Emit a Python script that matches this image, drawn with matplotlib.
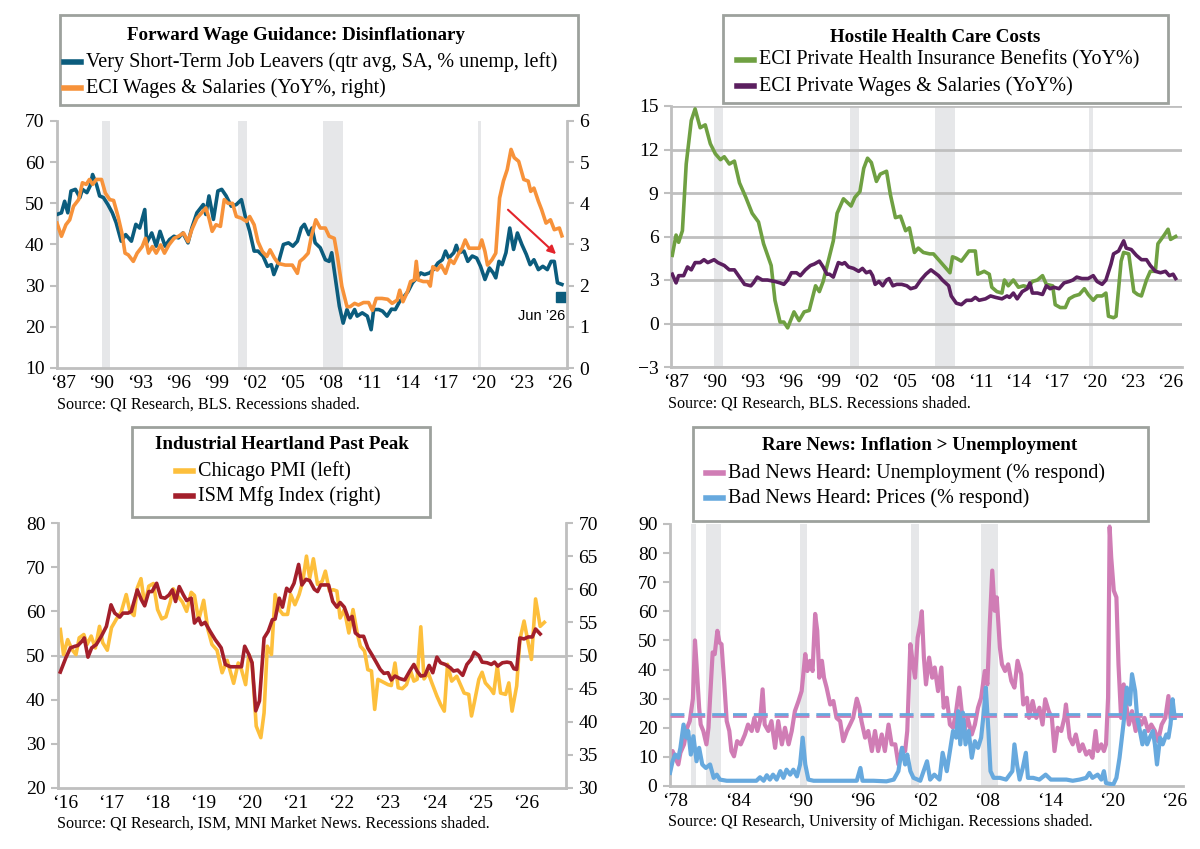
import numpy as np
import matplotlib.pyplot as plt
from matplotlib.patches import Rectangle
from matplotlib.lines import Line2D

plt.rcParams['font.family'] = ['Liberation Serif', 'DejaVu Serif']

# ---------------- data ----------------
# top left: very short-term job leavers (left) and ECI wages (right)
leavers_yr = [1987.0, 1987.35, 1987.6, 1987.85, 1988.1, 1988.45, 1988.8, 1989.0, 1989.35, 1989.6, 1989.8,
              1990.1, 1990.35, 1990.65, 1991.0, 1991.35, 1991.65, 1992.05, 1992.4, 1992.85, 1993.2, 1993.5,
              1993.9, 1994.05, 1994.45, 1994.8, 1995.1, 1995.5, 1995.85, 1996.2, 1996.55, 1996.9, 1997.3,
              1997.6, 1998.0, 1998.5, 1998.7, 1998.95, 1999.3, 1999.65, 1999.95, 2000.3, 2000.7, 2001.1,
              2001.5, 2001.8, 2002.15, 2002.5, 2002.8, 2003.2, 2003.55, 2003.85, 2004.05, 2004.4, 2004.8,
              2005.2, 2005.55, 2005.9, 2006.2, 2006.45, 2006.8, 2007.05, 2007.3, 2007.7, 2008.1, 2008.4,
              2008.6, 2008.9, 2009.2, 2009.5, 2009.8, 2010.05, 2010.4, 2010.6, 2011.0, 2011.4, 2011.7,
              2011.9, 2012.3, 2012.6, 2012.95, 2013.3, 2013.6, 2013.95, 2014.3, 2014.6, 2014.95, 2015.3,
              2015.6, 2015.9, 2016.3, 2016.6, 2016.95, 2017.3, 2017.55, 2017.8, 2018.2, 2018.4, 2018.6,
              2019.0, 2019.3, 2019.65, 2020.0, 2020.3, 2020.65, 2021.0, 2021.3, 2021.5, 2021.75, 2022.0,
              2022.3, 2022.6, 2022.9, 2023.2, 2023.55, 2023.9, 2024.2, 2024.5, 2024.85, 2025.2, 2025.55,
              2025.85, 2026.1, 2026.35, 2026.7]
leavers = [47.3, 47.7, 50.5, 47.7, 53.0, 53.4, 51.4, 53.4, 52.6, 54.2, 57.0,
           54.6, 51.8, 51.4, 49.7, 47.7, 45.3, 40.8, 42.4, 40.8, 44.9, 44.0,
           48.5, 40.4, 42.8, 39.6, 43.2, 39.6, 41.2, 42.0, 41.6, 42.8, 40.4,
           44.0, 47.7, 49.7, 47.3, 51.8, 46.1, 53.0, 53.4, 51.8, 49.3, 49.7,
           50.9, 46.9, 43.2, 38.4, 38.4, 37.2, 34.7, 35.1, 32.7, 35.5, 40.0,
           40.4, 39.6, 40.8, 44.0, 44.9, 42.4, 44.0, 40.4, 39.2, 36.3, 35.9,
           38.0, 31.5, 25.0, 20.9, 24.2, 22.2, 24.2, 22.6, 23.4, 22.6, 19.3,
           24.2, 24.2, 23.8, 22.6, 24.3, 24.2, 26.2, 27.4, 28.6, 30.7, 31.9,
           33.1, 32.7, 33.1, 33.9, 35.5, 36.3, 38.4, 36.7, 38.0, 39.8, 38.0,
           38.4, 35.9, 37.2, 36.7, 34.7, 31.5, 34.3, 33.1, 31.9, 35.9, 35.1,
           38.0, 44.0, 38.8, 42.8, 40.0, 37.6, 35.1, 36.3, 33.9, 34.7, 33.9,
           35.9, 35.9, 30.7, 30.3]
leavers_jun26 = (2026.6, 27.2)

eci_yr = [1987.0, 1987.35, 1987.7, 1988.0, 1988.3, 1988.7, 1989.0, 1989.3, 1989.55, 1989.8, 1990.1, 1990.5,
          1990.8, 1991.15, 1991.45, 1991.8, 1992.1, 1992.35, 1992.6, 1993.0, 1993.3, 1993.7, 1993.95, 1994.2,
          1994.5, 1994.8, 1995.15, 1995.45, 1995.8, 1996.2, 1996.55, 1996.95, 1997.3, 1997.6, 1998.0, 1998.35,
          1998.7, 1998.95, 1999.2, 1999.5, 1999.85, 2000.15, 2000.45, 2000.8, 2001.1, 2001.5, 2001.9, 2002.15,
          2002.5, 2002.8, 2003.15, 2003.5, 2003.75, 2004.1, 2004.4, 2004.95, 2005.5, 2005.9, 2006.1, 2006.4,
          2006.75, 2007.0, 2007.35, 2007.7, 2008.1, 2008.4, 2008.8, 2009.05, 2009.4, 2009.8, 2010.05, 2010.4,
          2010.7, 2011.1, 2011.5, 2011.8, 2012.1, 2012.55, 2013.0, 2013.35, 2013.75, 2013.95, 2014.2, 2014.55,
          2014.8, 2015.1, 2015.25, 2015.4, 2015.8, 2016.15, 2016.35, 2016.55, 2016.9, 2017.2, 2017.55, 2017.9,
          2018.2, 2018.6, 2018.85, 2019.1, 2019.4, 2019.8, 2020.2, 2020.4, 2020.65, 2020.85, 2021.2, 2021.5,
          2021.8, 2022.1, 2022.4, 2022.7, 2022.95, 2023.3, 2023.7, 2024.05, 2024.25, 2024.5, 2024.85, 2025.1,
          2025.45, 2025.8, 2026.1, 2026.5, 2026.7]
eci = [3.52, 3.2, 3.48, 3.6, 3.93, 4.09, 4.5, 4.46, 4.58, 4.46, 4.58, 4.58,
       4.25, 4.09, 4.07, 3.68, 3.28, 2.79, 2.75, 2.59, 2.79, 2.95, 3.15, 2.79,
       2.95, 2.79, 2.99, 2.79, 2.99, 3.15, 3.2, 3.28, 3.07, 3.36, 3.64, 3.76,
       3.89, 3.64, 3.32, 3.48, 3.44, 4.09, 4.0, 4.0, 3.68, 3.64, 3.56, 3.68,
       3.48, 3.07, 2.83, 2.71, 2.87, 2.67, 2.54, 2.5, 2.5, 2.3, 2.59, 2.67,
       2.79, 3.2, 3.6, 3.4, 3.4, 3.2, 3.15, 2.71, 1.98, 1.49, 1.49, 1.57,
       1.53, 1.59, 1.59, 1.4, 1.69, 1.69, 1.67, 1.57, 1.65, 1.89, 1.61, 1.85,
       2.1, 2.14, 2.59, 2.14, 2.1, 2.1, 1.99, 2.46, 2.38, 2.5, 2.3, 2.63,
       2.54, 2.79, 2.91, 3.11, 2.91, 2.91, 2.91, 3.11, 2.83, 2.5, 2.63, 2.79,
       4.13, 4.54, 4.82, 5.31, 5.11, 5.02, 4.58, 4.54, 4.29, 4.37, 4.05, 3.85,
       3.52, 3.6, 3.36, 3.4, 3.21]

# top right: ECI health insurance benefits and private wages (YoY%)
health_yr = [1987.2, 1987.5, 1987.7, 1988.0, 1988.3, 1988.7, 1989.0, 1989.4, 1989.8, 1990.2, 1990.6, 1991.0,
             1991.3, 1991.7, 1992.1, 1992.5, 1993.0, 1993.5, 1994.0, 1994.4, 1995.0, 1995.3, 1995.7, 1996.0,
             1996.3, 1996.8, 1997.2, 1997.6, 1998.0, 1998.5, 1998.8, 1999.1, 1999.5, 1999.9, 2000.2, 2000.7,
             2001.3, 2001.6, 2002.0, 2002.3, 2002.6, 2002.9, 2003.3, 2003.6, 2004.1, 2004.4, 2004.8, 2005.2,
             2005.6, 2005.9, 2006.3, 2006.6, 2007.0, 2007.5, 2007.8, 2008.3, 2009.1, 2009.3, 2009.6, 2010.0,
             2010.6, 2011.1, 2011.3, 2011.8, 2012.2, 2012.4, 2012.8, 2013.2, 2013.4, 2013.7, 2014.1, 2014.5,
             2014.9, 2015.3, 2015.6, 2016.0, 2016.4, 2016.7, 2017.2, 2017.4, 2017.8, 2018.2, 2018.5, 2018.9,
             2019.3, 2019.7, 2020.0, 2020.4, 2020.7, 2021.1, 2021.4, 2021.6, 2022.0, 2022.2, 2022.6, 2022.8,
             2023.2, 2023.6, 2023.9, 2024.2, 2024.6, 2024.9, 2025.3, 2025.5, 2026.0, 2026.3, 2026.5, 2026.9]
health = [4.7, 6.1, 5.6, 6.4, 11.0, 14.0, 14.8, 13.5, 13.7, 12.4, 11.7, 11.3,
          11.5, 11.0, 11.2, 9.7, 8.7, 7.6, 7.0, 5.5, 4.0, 1.6, 0.1, 0.1,
          -0.3, 0.8, 0.2, 0.8, 0.9, 2.6, 2.2, 2.9, 4.3, 5.7, 7.6, 8.6,
          8.1, 8.7, 9.1, 10.7, 11.4, 11.1, 9.8, 10.3, 10.5, 8.9, 7.3, 7.4,
          6.4, 6.6, 4.9, 5.2, 4.9, 4.8, 4.8, 4.3, 3.5, 4.6, 4.5, 4.3,
          5.0, 5.0, 3.4, 3.6, 3.4, 2.5, 2.2, 2.1, 3.0, 2.6, 3.0, 2.5,
          2.6, 2.5, 2.9, 3.0, 3.3, 2.7, 2.6, 1.3, 1.1, 1.1, 1.7, 1.9,
          2.0, 2.4, 2.0, 1.6, 1.9, 1.9, 2.1, 0.5, 0.4, 0.5, 4.3, 4.9,
          4.8, 2.2, 2.0, 1.9, 3.0, 3.6, 3.6, 5.5, 6.1, 6.5, 5.8, 6.0]

wages_yr = [1987.2, 1987.5, 1987.7, 1988.1, 1988.4, 1988.7, 1989.0, 1989.4, 1989.7, 1990.0, 1990.5, 1990.8,
            1991.3, 1991.7, 1992.1, 1992.5, 1992.9, 1993.4, 1993.6, 1993.9, 1994.3, 1994.7, 1995.3, 1995.7,
            1996.0, 1996.3, 1996.6, 1997.0, 1997.3, 1997.7, 1998.1, 1998.4, 1998.8, 1999.1, 1999.4, 1999.6,
            1999.9, 2000.3, 2000.6, 2000.8, 2001.1, 2001.5, 2001.9, 2002.2, 2002.5, 2002.8, 2003.0, 2003.2,
            2003.5, 2003.8, 2004.1, 2004.3, 2004.6, 2004.9, 2005.3, 2005.7, 2006.0, 2006.4, 2006.8, 2007.2,
            2007.6, 2008.2, 2008.5, 2009.0, 2009.2, 2009.6, 2010.0, 2010.4, 2010.8, 2011.1, 2011.4, 2011.9,
            2012.3, 2012.7, 2013.2, 2013.6, 2013.8, 2014.1, 2014.4, 2014.8, 2015.2, 2015.4, 2015.6, 2016.0,
            2016.4, 2016.7, 2017.0, 2017.3, 2017.7, 2018.1, 2018.5, 2018.8, 2019.1, 2019.5, 2020.0, 2020.4,
            2020.7, 2021.1, 2021.4, 2021.8, 2022.0, 2022.4, 2022.8, 2023.0, 2023.4, 2023.8, 2024.2, 2024.6,
            2024.9, 2025.3, 2025.7, 2026.1, 2026.4, 2026.7, 2026.9]
wages = [3.4, 2.8, 3.3, 3.3, 3.9, 3.7, 4.2, 4.2, 4.4, 4.2, 4.4, 4.2,
         4.0, 3.7, 3.7, 3.2, 2.7, 2.6, 2.8, 3.2, 3.0, 3.0, 2.9, 2.8,
         2.7, 3.0, 3.5, 3.5, 3.3, 3.7, 4.0, 4.1, 4.3, 3.9, 3.4, 3.4,
         3.2, 4.2, 4.1, 4.2, 3.9, 3.8, 3.6, 3.8, 3.5, 3.6, 3.3, 2.7,
         2.9, 2.6, 3.0, 3.1, 2.6, 2.7, 2.7, 2.6, 2.4, 2.5, 3.0, 3.4,
         3.7, 3.3, 3.0, 2.6, 1.9, 1.4, 1.3, 1.6, 1.6, 1.8, 1.6, 1.7,
         1.9, 1.8, 1.7, 1.9, 1.8, 2.1, 1.7, 2.2, 2.4, 2.8, 2.1, 2.1,
         2.0, 2.6, 2.4, 2.5, 2.4, 2.8, 2.9, 3.0, 3.2, 3.1, 3.1, 3.3,
         2.9, 2.7, 3.0, 4.1, 4.8, 5.0, 5.7, 5.2, 5.1, 4.7, 4.4, 4.4,
         4.0, 3.6, 3.5, 3.6, 3.3, 3.4, 3.1]

# bottom left: Chicago PMI (left) and ISM manufacturing (right)
pmi_yr = [2016.0, 2016.07, 2016.16, 2016.25, 2016.34, 2016.41, 2016.51, 2016.58, 2016.67, 2016.76, 2016.85,
          2016.92, 2017.02, 2017.11, 2017.22, 2017.32, 2017.43, 2017.51, 2017.6, 2017.67, 2017.75, 2017.83,
          2017.92, 2018.02, 2018.11, 2018.2, 2018.29, 2018.38, 2018.45, 2018.55, 2018.65, 2018.74, 2018.84,
          2018.91, 2019.0, 2019.11, 2019.2, 2019.29, 2019.4, 2019.51, 2019.62, 2019.76, 2019.86, 2019.93,
          2020.02, 2020.09, 2020.16, 2020.25, 2020.35, 2020.42, 2020.49, 2020.58, 2020.66, 2020.75, 2020.83,
          2020.93, 2021.0, 2021.09, 2021.18, 2021.26, 2021.34, 2021.41, 2021.49, 2021.58, 2021.68, 2021.75,
          2021.84, 2021.92, 2022.0, 2022.07, 2022.16, 2022.26, 2022.35, 2022.44, 2022.51, 2022.6, 2022.67,
          2022.75, 2022.82, 2022.89, 2023.0, 2023.11, 2023.18, 2023.26, 2023.33, 2023.42, 2023.51, 2023.6,
          2023.67, 2023.74, 2023.82, 2023.89, 2023.98, 2024.06, 2024.17, 2024.25, 2024.33, 2024.4, 2024.49,
          2024.6, 2024.68, 2024.76, 2024.86, 2024.92, 2024.98, 2025.08, 2025.15, 2025.22, 2025.33, 2025.4,
          2025.48, 2025.55, 2025.66, 2025.73, 2025.8, 2025.9, 2025.97, 2026.06, 2026.15, 2026.22, 2026.31,
          2026.41, 2026.5]
pmi = [55.9, 50.2, 53.6, 51.4, 50.2, 54.0, 54.75, 52.5, 54.4, 51.7, 56.6,
       52.9, 51.2, 56.3, 58.3, 59.8, 63.8, 60.0, 59.05, 65.3, 67.4, 61.5,
       65.7, 66.3, 60.4, 58.3, 58.75, 61.9, 65.1, 63.4, 62.1, 60.0, 64.3,
       63.6, 58.0, 62.5, 56.0, 52.5, 51.2, 46.1, 48.9, 43.7, 48.3, 46.8,
       43.4, 50.2, 48.3, 34.0, 31.4, 37.0, 52.1, 50.2, 63.8, 60.4, 59.3,
       59.3, 63.8, 61.5, 63.8, 66.8, 72.5, 67.5, 71.9, 66.1, 66.8, 69.1,
       64.6, 64.9, 64.6, 58.5, 60.4, 55.1, 60.4, 55.1, 52.1, 51.0, 46.8,
       46.5, 37.8, 44.6, 44.0, 43.4, 43.2, 48.3, 42.7, 42.5, 43.4, 46.5,
       44.2, 44.6, 56.5, 44.7, 46.1, 43.8, 40.8, 38.9, 37.4, 48.0, 44.2,
       45.3, 43.4, 41.5, 41.2, 36.3, 39.3, 44.6, 46.2, 43.8, 42.5, 41.4,
       47.6, 41.5, 41.2, 43.8, 37.4, 43.1, 53.6, 57.8, 52.9, 49.1, 62.8,
       56.6, 57.5]

ism_yr = [2016.0, 2016.12, 2016.22, 2016.32, 2016.38, 2016.47, 2016.52, 2016.6, 2016.68, 2016.78, 2016.89,
          2017.0, 2017.1, 2017.18, 2017.29, 2017.36, 2017.47, 2017.54, 2017.67, 2017.76, 2017.83, 2017.92,
          2017.99, 2018.09, 2018.18, 2018.27, 2018.36, 2018.43, 2018.5, 2018.58, 2018.67, 2018.74, 2018.84,
          2018.91, 2019.0, 2019.06, 2019.14, 2019.25, 2019.36, 2019.44, 2019.49, 2019.58, 2019.69, 2019.84,
          2019.93, 2020.0, 2020.09, 2020.16, 2020.24, 2020.32, 2020.42, 2020.51, 2020.6, 2020.66, 2020.75,
          2020.82, 2020.91, 2020.98, 2021.07, 2021.17, 2021.24, 2021.33, 2021.41, 2021.51, 2021.58, 2021.65,
          2021.82, 2021.91, 2022.0, 2022.07, 2022.16, 2022.26, 2022.33, 2022.4, 2022.49, 2022.58, 2022.67,
          2022.77, 2022.86, 2022.94, 2023.02, 2023.11, 2023.18, 2023.26, 2023.37, 2023.47, 2023.58, 2023.67,
          2023.74, 2023.82, 2023.91, 2024.0, 2024.08, 2024.17, 2024.25, 2024.35, 2024.46, 2024.53, 2024.62,
          2024.73, 2024.82, 2024.91, 2024.98, 2025.08, 2025.15, 2025.26, 2025.35, 2025.42, 2025.49, 2025.59,
          2025.69, 2025.77, 2025.84, 2025.9, 2025.97, 2026.06, 2026.15, 2026.24, 2026.31, 2026.41]
ism = [47.5, 49.65, 51.15, 51.4, 51.5, 52.15, 52.65, 49.75, 51.15, 51.65, 52.9,
       54.4, 57.65, 56.4, 55.8, 56.4, 56.4, 56.65, 59.9, 58.4, 57.5, 59.65,
       59.65, 60.9, 58.8, 58.65, 59.15, 59.9, 58.15, 60.4, 59.15, 58.3, 58.65,
       54.9, 55.65, 54.65, 55.0, 53.65, 52.4, 51.65, 51.15, 48.65, 48.3, 48.3,
       48.3, 51.4, 50.15, 48.9, 41.65, 43.15, 52.65, 53.65, 55.4, 55.5, 58.65,
       57.3, 60.15, 59.65, 60.9, 63.75, 60.65, 61.5, 61.3, 60.0, 59.65, 60.65,
       60.65, 58.15, 57.3, 58.0, 57.3, 55.4, 55.9, 53.4, 52.9, 52.9, 51.15,
       50.0, 48.9, 47.9, 47.3, 47.4, 46.3, 46.9, 46.5, 46.3, 47.65, 48.65,
       47.65, 46.9, 47.0, 48.5, 47.4, 49.75, 48.9, 48.65, 48.15, 47.65, 47.8,
       47.0, 48.65, 49.4, 50.5, 50.0, 49.0, 48.9, 48.65, 49.0, 48.4, 48.9,
       49.0, 48.9, 48.0, 47.9, 52.65, 52.5, 52.8, 52.8, 54.0, 53.25]

# bottom right: Michigan survey, bad news heard (% respond)
unemp_yr = [1978.0, 1978.25, 1978.5, 1978.8, 1979.0, 1979.35, 1979.65, 1979.9, 1980.2, 1980.4, 1980.55, 1980.8,
            1980.95, 1981.2, 1981.5, 1981.7, 1981.85, 1982.1, 1982.3, 1982.55, 1982.75, 1982.95, 1983.2, 1983.45,
            1983.7, 1983.9, 1984.15, 1984.45, 1984.8, 1985.2, 1985.5, 1985.85, 1986.1, 1986.4, 1986.65, 1986.9,
            1987.1, 1987.45, 1987.75, 1988.1, 1988.4, 1988.75, 1989.05, 1989.4, 1989.7, 1990.0, 1990.35, 1990.65,
            1991.0, 1991.2, 1991.45, 1991.7, 1991.95, 1992.15, 1992.35, 1992.6, 1992.8, 1993.05, 1993.4, 1993.7,
            1994.0, 1994.35, 1994.65, 1995.0, 1995.3, 1995.6, 1995.95, 1996.2, 1996.4, 1996.75, 1997.05, 1997.4,
            1997.7, 1998.0, 1998.35, 1998.65, 1999.0, 1999.3, 1999.65, 1999.95, 2000.3, 2000.6, 2000.8, 2001.1,
            2001.35, 2001.55, 2001.8, 2002.05, 2002.2, 2002.4, 2002.6, 2002.9, 2003.2, 2003.44, 2003.76, 2004.08,
            2004.3, 2004.6, 2004.9, 2005.2, 2005.5, 2005.8, 2006.1, 2006.3, 2006.6, 2007.0, 2007.3, 2007.6,
            2007.9, 2008.25, 2008.5, 2008.7, 2008.97, 2009.2, 2009.4, 2009.7, 2009.9, 2010.2, 2010.5, 2010.8,
            2011.1, 2011.4, 2011.75, 2011.95, 2012.3, 2012.5, 2012.85, 2013.2, 2013.5, 2013.8, 2014.06, 2014.4,
            2014.7, 2014.95, 2015.25, 2015.6, 2015.9, 2016.05, 2016.4, 2016.7, 2017.0, 2017.35, 2017.65, 2018.0,
            2018.3, 2018.6, 2018.9, 2019.1, 2019.45, 2019.7, 2019.9, 2020.1, 2020.25, 2020.4, 2020.65, 2020.9,
            2021.1, 2021.35, 2021.6, 2021.85, 2022.1, 2022.4, 2022.75, 2022.97, 2023.3, 2023.6, 2023.95, 2024.25,
            2024.6, 2024.9, 2025.25, 2025.6, 2025.9, 2026.1, 2026.4]
unemp = [8.5, 12.0, 9.7, 7.4, 11.4, 14.3, 20.0, 22.3, 30.0, 50.0, 41.8, 26.9,
         21.1, 18.9, 14.3, 20.0, 30.0, 45.9, 45.3, 53.3, 49.3, 48.7, 36.1, 22.3,
         18.9, 12.0, 10.2, 15.4, 14.3, 17.7, 21.1, 18.9, 23.4, 18.9, 22.3, 33.2,
         21.1, 18.9, 22.3, 13.1, 22.3, 14.3, 20.0, 14.3, 18.9, 25.7, 29.2, 32.6,
         45.3, 39.5, 43.0, 39.5, 59.1, 53.3, 37.2, 43.0, 37.2, 33.8, 28.0, 29.2,
         23.4, 22.3, 15.4, 18.9, 21.1, 23.4, 30.0, 26.9, 22.3, 16.6, 18.9, 12.0,
         18.9, 12.0, 17.7, 12.0, 21.1, 14.3, 14.3, 7.4, 13.1, 12.0, 18.9, 48.7,
         41.8, 37.2, 51.0, 55.6, 60.0, 44.1, 34.9, 44.1, 37.2, 40.7, 32.6, 40.7,
         26.9, 30.3, 21.1, 20.0, 25.7, 33.8, 23.4, 18.9, 23.4, 17.7, 21.1, 26.9,
         30.3, 39.5, 34.9, 53.3, 74.0, 60.2, 64.8, 47.6, 41.8, 39.5, 41.8, 36.1,
         33.8, 43.0, 38.4, 28.0, 30.3, 23.4, 29.2, 23.4, 26.9, 21.1, 29.8, 25.7,
         23.4, 12.0, 20.0, 18.9, 23.4, 28.0, 16.6, 14.3, 17.7, 12.0, 14.3, 10.8,
         12.0, 9.7, 18.9, 12.0, 14.3, 12.0, 14.3, 30.3, 89.0, 78.6, 67.1, 64.8,
         41.8, 23.4, 34.9, 28.0, 21.1, 25.7, 18.9, 23.4, 21.1, 23.4, 18.9, 21.1,
         18.9, 15.4, 21.1, 23.4, 30.9, 23.4, 23.4]

prices_yr = [1978.0, 1978.25, 1978.5, 1978.8, 1979.0, 1979.3, 1979.55, 1979.75, 1980.0, 1980.25, 1980.55, 1980.8,
             1981.1, 1981.45, 1981.85, 1982.2, 1982.5, 1982.8, 1983.45, 1984.4, 1985.4, 1986.3, 1986.65, 1987.0,
             1987.3, 1987.6, 1987.9, 1988.25, 1988.6, 1988.9, 1989.2, 1989.55, 1989.85, 1990.2, 1990.5, 1990.75,
             1991.0, 1991.3, 1991.8, 1992.75, 1993.7, 1995.0, 1995.95, 1996.3, 1996.5, 1997.55, 1998.8, 1999.5,
             1999.95, 2000.3, 2000.6, 2000.8, 2001.1, 2001.4, 2002.05, 2002.7, 2003.0, 2003.4, 2003.9, 2004.2,
             2004.6, 2004.9, 2005.2, 2005.5, 2005.7, 2005.9, 2006.15, 2006.4, 2006.7, 2007.0, 2007.3, 2007.6,
             2007.9, 2008.2, 2008.35, 2008.6, 2008.8, 2009.1, 2009.7, 2010.3, 2010.9, 2011.1, 2011.35, 2011.6,
             2011.9, 2012.2, 2012.4, 2012.9, 2013.5, 2014.1, 2014.6, 2015.4, 2016.1, 2016.7, 2017.35, 2018.0,
             2018.3, 2018.6, 2019.1, 2019.45, 2019.7, 2019.9, 2020.6, 2020.9, 2021.2, 2021.5, 2021.7, 2021.9,
             2022.2, 2022.4, 2022.7, 2022.9, 2023.1, 2023.4, 2023.6, 2023.85, 2024.1, 2024.4, 2024.6, 2024.8,
             2025.1, 2025.35, 2025.7, 2025.9, 2026.1, 2026.3, 2026.5]
prices = [4.5, 8.5, 10.8, 9.7, 13.1, 21.1, 16.6, 18.9, 10.8, 17.1, 8.5, 13.1,
          7.4, 6.2, 7.4, 2.8, 3.9, 2.2, 1.8, 1.8, 1.8, 1.8, 3.0, 1.8,
          3.7, 2.2, 3.9, 2.2, 5.1, 2.8, 5.6, 3.9, 5.6, 3.3, 7.4, 16.6,
          7.4, 2.2, 1.8, 1.8, 1.8, 1.8, 1.8, 6.2, 1.8, 1.8, 1.6, 2.2,
          5.1, 13.1, 7.4, 10.8, 5.1, 2.8, 1.8, 8.5, 2.2, 3.9, 2.2, 11.4,
          5.1, 12.0, 18.9, 16.6, 25.7, 14.3, 25.2, 14.3, 18.9, 9.7, 15.4, 13.1,
          16.6, 26.9, 33.8, 18.9, 5.1, 2.8, 2.8, 2.2, 5.1, 14.3, 7.4, 2.2,
          6.2, 11.4, 2.8, 2.8, 2.2, 3.9, 2.2, 2.2, 2.2, 1.8, 2.2, 2.8,
          4.5, 2.8, 3.9, 2.2, 5.1, 1.0, 0.5, 2.8, 9.7, 18.9, 25.2, 33.8,
          28.0, 38.4, 32.6, 23.4, 20.0, 14.3, 18.9, 14.3, 16.6, 18.9, 14.3, 7.4,
          16.6, 14.3, 17.7, 16.6, 21.1, 29.8, 23.4]
unemp_avg = 24.0
prices_avg = 24.8

recessions = [(1980.0, 1980.5), (1981.5, 1982.9), (1990.5, 1991.2), (2001.2, 2001.9),
              (2007.9, 2009.5), (2020.1, 2020.35)]

# ---------------- styling ----------------
W, H = 1200, 849
GRAY = '#bfbfbf'
SHADE = '#e6e7e9'
TICK_FS = 14
LEG_FS = 14.5
TITLE_FS = 13.7
SRC_FS = 11.6

fig = plt.figure(figsize=(12, 8.49), dpi=100)


def px_axes(x0, y0, x1, y1):
    # pixel box measured from the top-left corner of the figure
    return fig.add_axes([x0 / W, 1 - y1 / H, (x1 - x0) / W, (y1 - y0) / H])


def style(ax):
    for s in ['top', 'right']:
        ax.spines[s].set_visible(False)
    for s in ['left', 'bottom']:
        ax.spines[s].set_color(GRAY)
        ax.spines[s].set_linewidth(2)
    ax.tick_params(axis='y', colors=GRAY, labelcolor='black', labelsize=TICK_FS,
                   length=5, width=1.5, pad=4)
    ax.tick_params(axis='x', length=0, labelsize=TICK_FS, pad=5)


def style_right(axb):
    for s in ['top', 'left', 'bottom']:
        axb.spines[s].set_visible(False)
    axb.spines['right'].set_color(GRAY)
    axb.spines['right'].set_linewidth(2)
    axb.tick_params(axis='y', colors=GRAY, labelcolor='black', labelsize=TICK_FS,
                    length=5, width=1.5, pad=4)


def shade(ax):
    lo, hi = ax.get_xlim()
    for a, b in recessions:
        if b > lo and a < hi:
            ax.axvspan(a, b, color=SHADE, lw=0, zorder=0)


def year_ticks(ax, years, offset):
    ax.set_xticks([y + offset for y in years])
    ax.set_xticklabels(['\u2018%02d' % (y % 100) for y in years])


def legend_box(x0, y0, x1, y1, title, tx, ty, rows, lx, rowy):
    fig.patches.append(Rectangle((x0 / W, 1 - y1 / H), (x1 - x0) / W, (y1 - y0) / H,
                                 transform=fig.transFigure, facecolor='white',
                                 edgecolor='#9da19d', lw=2, zorder=5))
    fig.text(tx / W, 1 - ty / H, title, ha='center', va='center', fontsize=TITLE_FS,
             fontweight='bold', zorder=6)
    for (label, color), yy in zip(rows, rowy):
        fig.lines.append(Line2D([lx / W, (lx + 17) / W], [1 - yy / H, 1 - yy / H],
                                transform=fig.transFigure, color=color, lw=4, zorder=6))
        fig.text((lx + 22) / W, 1 - yy / H, label, ha='left', va='center',
                 fontsize=LEG_FS, zorder=6)


# ---------------- top left ----------------
ax1 = px_axes(57, 121, 567, 368)
style(ax1)
ax1.set_xlim(1987.0, 2027.1)
ax1.set_ylim(10, 70)
ax1.set_yticks(range(10, 71, 10))
shade(ax1)
ax1.plot(leavers_yr, leavers, color='#0b5c7d', lw=2.6, zorder=3)
year_ticks(ax1, range(1987, 2027, 3), 0.5)
ax1b = ax1.twinx()
ax1b.plot(eci_yr, eci, color='#f7923a', lw=2.6, zorder=2)
ax1b.set_ylim(0, 6)
ax1b.set_yticks(range(0, 7))
style_right(ax1b)
ax1b.plot(leavers_jun26[0], (leavers_jun26[1] - 10) / 10, marker='s', color='#0b5c7d', ms=7)
ax1b.annotate('', xy=(2026.4, 2.72), xytext=(2022.3, 3.89),
              arrowprops=dict(arrowstyle='-|>', color='#e3242b', lw=1.5, mutation_scale=12))
ax1b.text(2025.1, 1.26, 'Jun \u201926', ha='center', va='center', fontsize=10.5,
          family=['Liberation Sans', 'DejaVu Sans'])
fig.text(57 / W, 1 - 404 / H, 'Source: QI Research, BLS. Recessions shaded.',
         fontsize=SRC_FS, va='center')
legend_box(60, 15, 578, 105, 'Forward Wage Guidance: Disinflationary', 296, 36,
           [('Very Short-Term Job Leavers (qtr avg, SA, % unemp, left)', '#0b5c7d'),
            ('ECI Wages & Salaries (YoY%, right)', '#f7923a')], 64, [62, 88])

# ---------------- top right ----------------
ax2 = px_axes(671, 106, 1182, 367)
style(ax2)
ax2.set_xlim(1987.1, 2027.4)
ax2.set_ylim(-3, 15)
ax2.set_yticks(range(-3, 16, 3))
shade(ax2)
ax2.grid(axis='y', color=GRAY, lw=2)
ax2.set_axisbelow(True)
ax2.plot(health_yr, health, color='#6fa042', lw=2.6, zorder=3)
ax2.plot(wages_yr, wages, color='#5b1f5f', lw=2.6, zorder=3)
year_ticks(ax2, range(1987, 2027, 3), 0.5)
fig.text(668 / W, 1 - 403 / H, 'Source: QI Research, BLS. Recessions shaded.',
         fontsize=SRC_FS, va='center')
legend_box(723, 15, 1168, 103, 'Hostile Health Care Costs', 935, 38,
           [('ECI Private Health Insurance Benefits (YoY%)', '#6fa042'),
            ('ECI Private Wages & Salaries (YoY%)', '#5b1f5f')], 737, [60, 86])

# ---------------- bottom left ----------------
ax3 = px_axes(58, 523, 566, 788)
style(ax3)
ax3.set_xlim(2015.95, 2026.97)
ax3.set_ylim(20, 80)
ax3.set_yticks(range(20, 81, 10))
ax3.axhline(50, color=GRAY, lw=2, zorder=1)
ax3.plot(pmi_yr, pmi, color='#fdbf3c', lw=2.6, zorder=2)
year_ticks(ax3, range(2016, 2027), 0.1)
ax3b = ax3.twinx()
ax3b.plot(ism_yr, ism, color='#a31f2b', lw=2.6, zorder=3)
ax3b.set_ylim(30, 70)
ax3b.set_yticks(range(30, 71, 5))
style_right(ax3b)
fig.text(57 / W, 1 - 824 / H, 'Source: QI Research, ISM, MNI Market News. Recessions shaded.',
         fontsize=SRC_FS, va='center')
legend_box(132, 427, 430, 517, 'Industrial Heartland Past Peak', 282, 445,
           [('Chicago PMI (left)', '#fdbf3c'),
            ('ISM Mfg Index (right)', '#a31f2b')], 176, [471, 496])

# ---------------- bottom right ----------------
ax4 = px_axes(670, 524, 1183, 786)
style(ax4)
ax4.set_xlim(1978.0, 2027.3)
ax4.set_ylim(0, 90)
ax4.set_yticks(range(0, 91, 10))
shade(ax4)
ax4.plot(unemp_yr, unemp, color='#d07db5', lw=3, zorder=2)
ax4.plot(prices_yr, prices, color='#67a9de', lw=3, zorder=3)
ax4.axhline(unemp_avg, color='#d07db5', lw=2, ls=(0, (5, 2.5)), zorder=4)
ax4.axhline(prices_avg, color='#67a9de', lw=2, ls=(0, (5, 2.5)), zorder=4)
year_ticks(ax4, range(1978, 2027, 6), 0.5)
fig.text(668 / W, 1 - 822 / H, 'Source: QI Research, University of Michigan. Recessions shaded.',
         fontsize=SRC_FS, va='center')
legend_box(693, 427, 1148, 521, 'Rare News: Inflation > Unemployment', 920, 446,
           [('Bad News Heard: Unemployment (% respond)', '#d07db5'),
            ('Bad News Heard: Prices (% respond)', '#67a9de')], 706, [473, 498])

fig.savefig('out.png', dpi=100)
